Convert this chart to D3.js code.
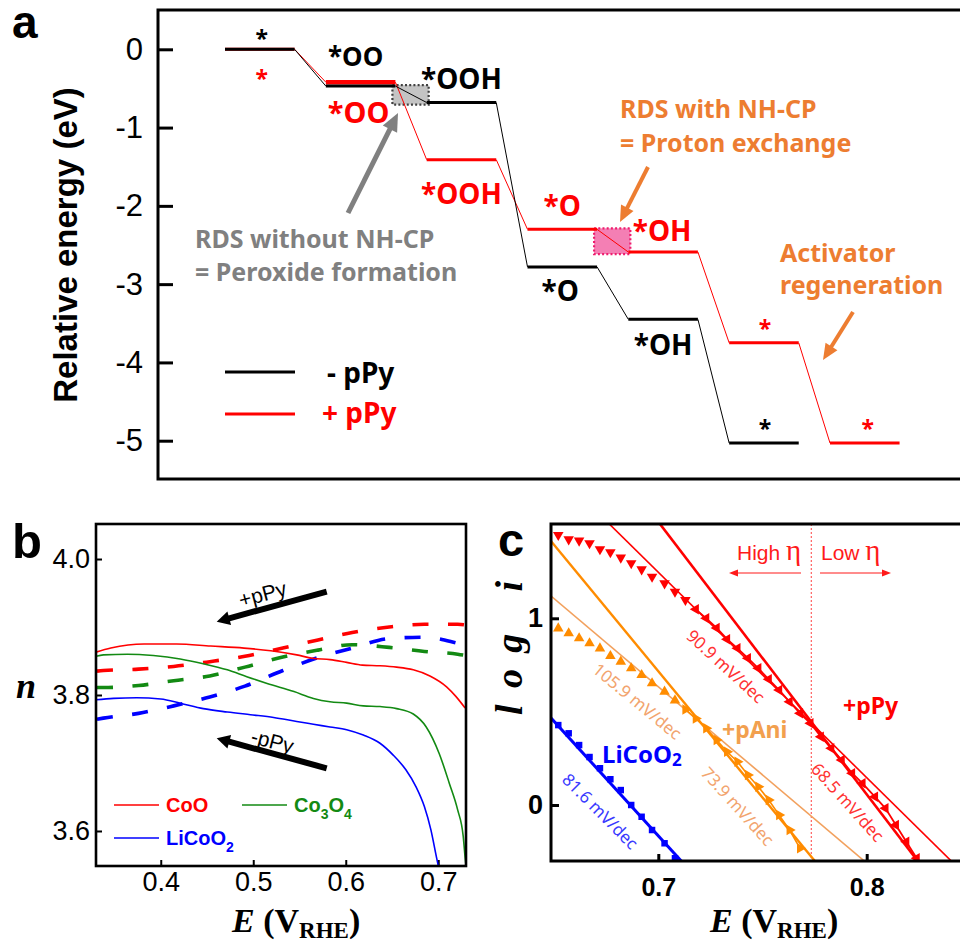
<!DOCTYPE html>
<html><head><meta charset="utf-8">
<script src="https://cdn.jsdelivr.net/npm/d3@7"></script>
<style>body{margin:0;background:#fff}svg{display:block}</style>
</head><body>
<svg id="fig" width="960" height="945"></svg>
<script>
// ---------- a: relative energy of the OER intermediates ----------
const stepLabelsMinus = ["*", "*OO", "*OOH", "*O", "*OH", "*"];
const energyMinus = [0, -0.47, -0.68, -2.78, -3.45, -5.03];
const stepLabelsPlus = ["*", "*OO", "*OOH", "*O", "*OH", "*", "*"];
const energyPlus = [0, -0.42, -1.41, -2.30, -2.59, -3.75, -5.03];
const energyTicks = [0, -1, -2, -3, -4, -5];

// ---------- b: electron transfer number n vs potential ----------
const coE = [0.330, 0.346, 0.382, 0.417, 0.454, 0.490, 0.519, 0.547, 0.564, 0.583, 0.601, 0.618, 0.637, 0.655, 0.673, 0.691, 0.709, 0.719, 0.729];
const coN = [3.863, 3.869, 3.875, 3.875, 3.872, 3.869, 3.865, 3.859, 3.854, 3.852, 3.848, 3.844, 3.843, 3.841, 3.837, 3.828, 3.812, 3.798, 3.781];
const co3o4E = [0.330, 0.338, 0.364, 0.392, 0.421, 0.446, 0.472, 0.493, 0.515, 0.544, 0.565, 0.583, 0.601, 0.619, 0.637, 0.655, 0.673, 0.687, 0.701, 0.712, 0.721, 0.727, 0.729, 0.730];
const co3o4N = [3.857, 3.859, 3.860, 3.858, 3.853, 3.846, 3.837, 3.827, 3.817, 3.805, 3.795, 3.790, 3.788, 3.784, 3.783, 3.780, 3.772, 3.753, 3.714, 3.670, 3.631, 3.592, 3.562, 3.549];
const licoo2E = [0.330, 0.349, 0.374, 0.400, 0.421, 0.446, 0.472, 0.497, 0.522, 0.547, 0.565, 0.583, 0.601, 0.619, 0.637, 0.651, 0.665, 0.676, 0.685, 0.692, 0.698, 0.700];
const licoo2N = [3.793, 3.795, 3.796, 3.794, 3.788, 3.780, 3.775, 3.771, 3.767, 3.761, 3.757, 3.753, 3.749, 3.741, 3.729, 3.712, 3.690, 3.665, 3.636, 3.602, 3.562, 3.549];
// with pPy (dashed)
const plusE = [0.330, 0.338, 0.376, 0.414, 0.453, 0.491, 0.532, 0.570, 0.607, 0.647, 0.685, 0.721, 0.730];
const coPlusN = [3.835, 3.836, 3.838, 3.842, 3.849, 3.857, 3.869, 3.881, 3.892, 3.900, 3.904, 3.904, 3.903];
const co3o4PlusN = [3.811, 3.811, 3.814, 3.821, 3.828, 3.841, 3.856, 3.866, 3.874, 3.870, 3.864, 3.860, 3.858];
const licoo2PlusN = [3.764, 3.766, 3.773, 3.784, 3.797, 3.813, 3.836, 3.855, 3.869, 3.883, 3.885, 3.876, 3.873];
const nTicks = [3.6, 3.8, 4.0];
const potTicksB = [0.4, 0.5, 0.6, 0.7];

// ---------- c: Tafel plots ----------
const potC = [0.652, 0.657, 0.662, 0.667, 0.672, 0.677, 0.682, 0.687, 0.692, 0.697, 0.703, 0.708, 0.713, 0.718, 0.723, 0.728, 0.733, 0.738, 0.743, 0.748, 0.753, 0.758, 0.763, 0.768, 0.773, 0.778, 0.783, 0.788, 0.793, 0.798, 0.804, 0.809, 0.814, 0.819, 0.824];
const pPyLog = [1.446, 1.423, 1.416, 1.402, 1.370, 1.354, 1.325, 1.295, 1.262, 1.223, 1.187, 1.142, 1.098, 1.048, 1.000, 0.948, 0.888, 0.839, 0.786, 0.732, 0.673, 0.616, 0.553, 0.491, 0.438, 0.366, 0.304, 0.241, 0.170, 0.116, 0.044, -0.018, -0.107, -0.197, -0.285];
const pAniLog = [0.946, 0.920, 0.893, 0.866, 0.839, 0.798, 0.768, 0.732, 0.696, 0.652, 0.607, 0.560, 0.512, 0.463, 0.411, 0.348, 0.285, 0.232, 0.161, 0.098, 0.027, -0.054, -0.134, -0.232];
const licoo2Log = [0.428, 0.384, 0.321, 0.257, 0.197, 0.138, 0.080, 0.000, -0.063, -0.134, -0.205, -0.285];
// Tafel fits: slope (mV/dec) and one point the fit passes through
const tafelNames = ["pPy-high", "pPy-low", "pAni-high", "pAni-low", "LiCoO2"];
const tafelSlopes = [90.9, 68.5, 105.9, 73.9, 81.6];
const tafelAnchorE = [0.7585, 0.7626, 0.7245, 0.7120, 0.6800];
const tafelAnchorLog = [0.603, 0.603, 0.402, 0.554, 0.080];
const etaBoundary = 0.7734;
const logTicks = [0, 1];
const potTicksC = [0.7, 0.8];

const svg = d3.select("#fig");
const SANS = "'Liberation Sans', Arial, sans-serif";
const KR = "'Noto Sans', 'Open Sans', sans-serif";
const SERIF = "'Liberation Serif', 'Times New Roman', serif";
const ORANGE = "#ED7D31";

function arrow(g, x1, y1, x2, y2, color, w, hl, hw) {
  const a = Math.atan2(y2 - y1, x2 - x1);
  const bx = x2 - hl * Math.cos(a), by = y2 - hl * Math.sin(a);
  g.append("line").attr("x1", x1).attr("y1", y1).attr("x2", bx + 1 * Math.cos(a)).attr("y2", by + 1 * Math.sin(a))
    .attr("stroke", color).attr("stroke-width", w);
  const px = -Math.sin(a) * hw / 2, py = Math.cos(a) * hw / 2;
  g.append("path").attr("d", `M${x2},${y2}L${bx + px},${by + py}L${bx - px},${by - py}Z`).attr("fill", color);
}
function styleAxis(ax, size, weight, w) {
  ax.select(".domain").remove();
  ax.selectAll(".tick line").attr("stroke", "#000").attr("stroke-width", w);
  ax.selectAll(".tick text").attr("font-family", SANS).attr("font-size", size)
    .attr("font-weight", weight).attr("fill", "#000");
}
const defs = svg.append("defs");

// =================== panel a ===================
const gA = svg.append("g");
const yA = d3.scaleLinear().domain([-5, 0]).range([440.7, 49.3]);
const xA = d3.scaleLinear().domain([0, 6]).range([225, 830]);
const plat = 0.69;

styleAxis(gA.append("g").attr("transform", "translate(158,0)")
  .call(d3.axisLeft(yA).tickValues(energyTicks).tickSize(-15).tickPadding(15).tickFormat(d => String(d))), 31, 400, 3);

gA.append("text").attr("transform", "translate(77,245) rotate(-90)").attr("text-anchor", "middle")
  .attr("font-family", SANS).attr("font-weight", 700).attr("font-size", 33).text("Relative energy (eV)");
svg.append("text").attr("x", 12).attr("y", 38).attr("font-family", SANS).attr("font-weight", 700)
  .attr("font-size", 46).text("a");

// rate-determining-step boxes
function rdsBox(i, energy, fill, stroke) {
  const x0 = xA(i + plat) - 3, x1 = xA(i + 1) + 2;
  const y0 = yA(energy[i]) - 1, y1 = yA(energy[i + 1]) + 2;
  gA.append("rect").attr("x", x0).attr("y", y0).attr("width", x1 - x0).attr("height", y1 - y0)
    .attr("fill", fill).attr("stroke", stroke).attr("stroke-width", 2.2).attr("stroke-dasharray", "2,2.2");
}
rdsBox(1, energyMinus, "#c4c4c4", "#404040");
rdsBox(3, energyPlus, "#f47fb4", "#ee1d6e");

function levels(energy, color, widths) {
  energy.forEach((e, i) => {
    if (i < energy.length - 1)
      gA.append("line").attr("x1", xA(i + plat)).attr("y1", yA(e)).attr("x2", xA(i + 1)).attr("y2", yA(energy[i + 1]))
        .attr("stroke", color).attr("stroke-width", 1);
  });
  energy.forEach((e, i) => {
    gA.append("line").attr("x1", xA(i)).attr("x2", xA(i + plat)).attr("y1", yA(e)).attr("y2", yA(e))
      .attr("stroke", color).attr("stroke-width", widths[i]);
  });
}
levels(energyPlus, "#ff0000", [3, 4.5, 3, 3, 3, 3, 3]);
levels(energyMinus, "#000000", [3, 3, 3, 3, 3, 3]);

// state labels: [dx from plateau centre, dy from level, size]
const labMinus = [[2, -2, 23], [-5, -20, 26], [0, -14, 28], [-2, 34, 28], [0, 36, 28], [1, -6, 23]];
const labPlus = [[2, 38, 23], [-2, 41, 29], [0, 44, 28], [0, -13, 28], [-1, -11, 28], [1, -6, 23], [3, -6, 23]];
function stateLabels(names, energy, lay, color) {
  names.forEach((t, i) => {
    gA.append("text").attr("x", xA(i + plat / 2) + lay[i][0]).attr("y", yA(energy[i]) + lay[i][1])
      .attr("text-anchor", "middle").attr("font-family", KR).attr("font-weight", 700)
      .attr("font-size", lay[i][2]).attr("fill", color).text(t);
  });
}
stateLabels(stepLabelsMinus, energyMinus, labMinus, "#000");
stateLabels(stepLabelsPlus, energyPlus, labPlus, "#ff0000");

// annotations
const ann = (x, y, t, c) => gA.append("text").attr("x", x).attr("y", y).attr("font-family", KR)
  .attr("font-weight", 700).attr("font-size", 25).attr("fill", c).text(t);
ann(195, 248, "RDS without NH-CP", "#808080");
ann(195, 281, "= Peroxide formation", "#808080");
ann(620, 118, "RDS with NH-CP", ORANGE);
ann(620, 152, "= Proton exchange", ORANGE);
ann(780, 262, "Activator", ORANGE);
ann(780, 294, "regeneration", ORANGE);
arrow(gA, 348, 213, 398, 113, "#808080", 5, 18, 16);
arrow(gA, 648, 167, 620, 222, ORANGE, 4, 16, 14);
arrow(gA, 853, 312, 823, 360, ORANGE, 4, 16, 14);

// legend
gA.append("line").attr("x1", 225).attr("x2", 295).attr("y1", 372).attr("y2", 372).attr("stroke", "#000").attr("stroke-width", 3);
gA.append("line").attr("x1", 225).attr("x2", 295).attr("y1", 414).attr("y2", 414).attr("stroke", "#ff0000").attr("stroke-width", 3);
gA.append("text").attr("x", 327).attr("y", 383).attr("font-family", KR).attr("font-weight", 700).attr("font-size", 28).text("- pPy");
gA.append("text").attr("x", 322).attr("y", 423).attr("font-family", KR).attr("font-weight", 700).attr("font-size", 28).attr("fill", "#ff0000").text("+ pPy");

gA.append("rect").attr("x", 158).attr("y", 10).attr("width", 840).attr("height", 469)
  .attr("fill", "none").attr("stroke", "#000").attr("stroke-width", 3);

// =================== panel b ===================
const gB = svg.append("g");
const xB = d3.scaleLinear().domain([0.33, 0.73]).range([96, 466]);
const yB = d3.scaleLinear().domain([3.5485, 4.0515]).range([866, 524]);
defs.append("clipPath").attr("id", "clipB").append("rect").attr("x", 96).attr("y", 524).attr("width", 370).attr("height", 342);

styleAxis(gB.append("g").attr("transform", "translate(0,866)")
  .call(d3.axisBottom(xB).tickValues(potTicksB).tickSize(-6).tickPadding(6).tickFormat(d3.format(".1f"))), 27, 400, 2);
styleAxis(gB.append("g").attr("transform", "translate(96,0)")
  .call(d3.axisLeft(yB).tickValues(nTicks).tickSize(-6).tickPadding(6).tickFormat(d3.format(".1f"))), 27, 400, 2);

const plotB = gB.append("g").attr("clip-path", "url(#clipB)");
const lineB = d3.line().x(d => xB(d[0])).y(d => yB(d[1])).curve(d3.curveMonotoneX);
const solidB = [[coE, coN, "#ff0000"], [co3o4E, co3o4N, "#138a13"], [licoo2E, licoo2N, "#0000ff"]];
const dashB = [[plusE, coPlusN, "#ff0000"], [plusE, co3o4PlusN, "#138a13"], [plusE, licoo2PlusN, "#0000ff"]];
dashB.forEach(([e, n, c]) => plotB.append("path").attr("d", lineB(e.map((v, i) => [v, n[i]])))
  .attr("fill", "none").attr("stroke", c).attr("stroke-width", 3.6).attr("stroke-dasharray", "16,19.5")
  .attr("stroke-dashoffset", -1));
solidB.forEach(([e, n, c]) => plotB.append("path").attr("d", lineB(e.map((v, i) => [v, n[i]])))
  .attr("fill", "none").attr("stroke", c).attr("stroke-width", 1.6));

gB.append("rect").attr("x", 96).attr("y", 524).attr("width", 370).attr("height", 342)
  .attr("fill", "none").attr("stroke", "#000").attr("stroke-width", 2.6);

// direction arrows
arrow(gB, 326.7, 591.7, 216.7, 621.7, "#000", 6, 13, 14);
arrow(gB, 326.7, 768.3, 216.7, 738.3, "#000", 6, 13, 14);
gB.append("text").attr("transform", "translate(262.5,594) rotate(-15)").attr("text-anchor", "middle")
  .attr("dominant-baseline", "central").attr("font-family", SANS).attr("font-size", 21).text("+pPy");
gB.append("text").attr("transform", "translate(272.5,741) rotate(15)").attr("text-anchor", "middle")
  .attr("dominant-baseline", "central").attr("font-family", SANS).attr("font-size", 21).text("-pPy");

// legend
const legB = [[114, 805, "#ff0000", [["CoO", 0]]], [242, 805, "#138a13", [["Co", 0], ["3", 1], ["O", 0], ["4", 1]]],
              [114, 838, "#0000ff", [["LiCoO", 0], ["2", 1]]]];
legB.forEach(([x, y, c, parts]) => {
  gB.append("line").attr("x1", x).attr("x2", x + 45).attr("y1", y).attr("y2", y).attr("stroke", c).attr("stroke-width", 1.6);
  const t = gB.append("text").attr("x", x + 52).attr("y", y + 7).attr("font-family", SANS)
    .attr("font-weight", 700).attr("font-size", 20).attr("fill", c);
  let sub = false;
  parts.forEach(([s, isSub]) => {
    const dy = isSub && !sub ? 7 : (!isSub && sub ? -7 : 0);
    t.append("tspan").attr("dy", dy).attr("font-size", isSub ? 14 : 20).text(s);
    sub = !!isSub;
  });
});

svg.append("text").attr("x", 12).attr("y", 558).attr("font-family", SANS).attr("font-weight", 700)
  .attr("font-size", 49).text("b");
svg.append("text").attr("x", 16).attr("y", 698).attr("font-family", SERIF).attr("font-weight", 700)
  .attr("font-style", "italic").attr("font-size", 36).text("n");

function potLabel(x) {
  const t = svg.append("text").attr("x", x).attr("y", 932).attr("font-family", SERIF).attr("font-weight", 700).attr("font-size", 34);
  t.append("tspan").attr("font-style", "italic").text("E");
  t.append("tspan").text(" (V");
  t.append("tspan").attr("font-size", 23).attr("dy", 6).text("RHE");
  t.append("tspan").attr("dy", -6).text(")");
}
potLabel(232);

// =================== panel c ===================
const gC = svg.append("g");
const xC = d3.scaleLinear().domain([0.7, 0.8]).range([658.3, 866.7]);
const yC = d3.scaleLinear().domain([0, 1]).range([805, 618.3]);
defs.append("clipPath").attr("id", "clipC").append("rect").attr("x", 551).attr("y", 524).attr("width", 440).attr("height", 337);

styleAxis(gC.append("g").attr("transform", "translate(0,861)")
  .call(d3.axisBottom(xC).tickValues(potTicksC).tickSize(-7).tickPadding(17).tickFormat(d3.format(".1f"))), 25, 700, 3);
styleAxis(gC.append("g").attr("transform", "translate(551,0)")
  .call(d3.axisLeft(yC).tickValues(logTicks).tickSize(-8).tickPadding(8).tickFormat(d3.format("d"))), 27, 700, 3);

const plotC = gC.append("g").attr("clip-path", "url(#clipC)");

// boundary between high and low overpotential
plotC.append("line").attr("x1", xC(etaBoundary)).attr("x2", xC(etaBoundary)).attr("y1", 524).attr("y2", 861)
  .attr("stroke", "#ff4040").attr("stroke-width", 1).attr("stroke-dasharray", "2,2");

// Tafel fit lines
const fitStyle = [["#ff0000", 1.6], ["#ff0000", 2.6], ["#f2a15e", 1.6], ["#ff8c00", 2.4], ["#0000ff", 3]];
const fitLine = d3.line().x(d => xC(d[0])).y(d => yC(d[1]));
tafelSlopes.forEach((s, k) => {
  const f = E => tafelAnchorLog[k] - (E - tafelAnchorE[k]) / (s / 1000);
  plotC.append("path").attr("d", fitLine([[0.60, f(0.60)], [0.90, f(0.90)]]))
    .attr("fill", "none").attr("stroke", fitStyle[k][0]).attr("stroke-width", fitStyle[k][1]);
});

// measured points
const tri = d3.symbol().type(d3.symbolTriangle).size(48);
const sq = d3.symbol().type(d3.symbolSquare).size(42);
function series(vals, color, split, rotA, rotB, symA, symB, lineW) {
  const pts = vals.map((v, i) => [potC[i], v]);
  if (lineW) plotC.append("path").attr("d", d3.line().x(d => xC(d[0])).y(d => yC(d[1]))(pts.slice(split)))
    .attr("fill", "none").attr("stroke", color).attr("stroke-width", lineW);
  pts.forEach((p, i) => {
    const early = i < split;
    plotC.append("path").attr("d", (early ? symA : symB)())
      .attr("transform", `translate(${xC(p[0])},${yC(p[1])}) rotate(${early ? rotA : rotB})`).attr("fill", color);
  });
}
series(licoo2Log, "#0000ff", 0, 0, 0, sq, sq, 0);
series(pAniLog, "#ff8c00", 12, 0, 90, tri, tri, 1.6);
series(pPyLog, "#ff0000", 13, 180, -90, tri, tri, 1.8);

gC.append("rect").attr("x", 551).attr("y", 524).attr("width", 440).attr("height", 337)
  .attr("fill", "none").attr("stroke", "#000").attr("stroke-width", 3);

// slope labels
const slopeLabelPos = [[726, 666, 42.5, "#ff3333"], [848, 802, 48, "#ff3333"], [637.5, 701, 39.5, "#f2a46e"],
                       [738, 806, 48, "#f2a46e"], [600.5, 811, 45, "#3a3aff"]];
tafelSlopes.forEach((s, k) => {
  const [x, y, a, c] = slopeLabelPos[k];
  gC.append("text").attr("transform", `translate(${x},${y}) rotate(${a})`).attr("text-anchor", "middle")
    .attr("dominant-baseline", "central").attr("font-family", KR).attr("font-size", 17).attr("fill", c)
    .text(`${s.toFixed(1)} mV/dec`);
});

// overpotential regions
function etaText(x, t) {
  const e = gC.append("text").attr("x", x).attr("y", 560).attr("font-family", SANS).attr("font-size", 21).attr("fill", "#ff1a1a");
  e.append("tspan").text(t + " ");
  e.append("tspan").attr("font-family", SERIF).attr("font-size", 29).text("η");
}
etaText(737, "High");
etaText(821, "Low");
arrow(gC, 801, 573, 729, 573, "#ff1a1a", 1.2, 9, 7);
arrow(gC, 820, 573, 891, 573, "#ff1a1a", 1.2, 9, 7);

gC.append("text").attr("x", 843).attr("y", 714).attr("font-family", KR).attr("font-weight", 700)
  .attr("font-size", 23).attr("fill", "#ff0000").text("+pPy");
gC.append("text").attr("x", 722).attr("y", 738).attr("font-family", KR).attr("font-weight", 700)
  .attr("font-size", 23).attr("fill", "#f2a04e").text("+pAni");
const lc = gC.append("text").attr("x", 602).attr("y", 763).attr("font-family", KR).attr("font-weight", 700)
  .attr("font-size", 24).attr("fill", "#0000ff");
lc.append("tspan").text("LiCoO");
lc.append("tspan").attr("font-size", 17).attr("dy", 3).text("2");

svg.append("text").attr("x", 498).attr("y", 556).attr("font-family", SANS).attr("font-weight", 700)
  .attr("font-size", 47).text("c");
svg.append("text").attr("transform", "translate(522,648) rotate(-90)").attr("text-anchor", "middle")
  .attr("font-family", SERIF).attr("font-weight", 700).attr("font-style", "italic").attr("font-size", 38)
  .attr("textLength", 134).attr("lengthAdjust", "spacing").text("log i");
potLabel(710);
</script>
</body></html>
